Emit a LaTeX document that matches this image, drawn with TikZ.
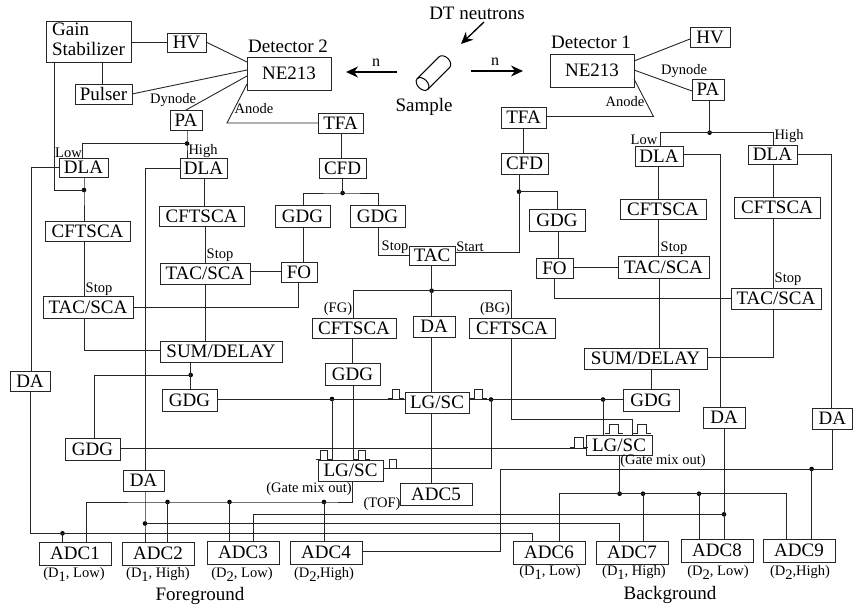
\documentclass[tikz,border=0pt]{standalone}
\usepackage{fontspec}
\setmainfont{Liberation Serif}
\usetikzlibrary{arrows.meta}
\newcommand{\bx}[6]{%
  \pgfmathsetmacro\bw{#4-#2}\pgfmathsetmacro\bh{#5-#3}%
  \pgfmathsetmacro\cx{(#2+#4)/2}\pgfmathsetmacro\cy{(#3+#5)/2}%
  \node[boxn,minimum width=\bw pt,minimum height=\bh pt] (#1) at (\cx,\cy) {#6};}
\newcommand{\pulsemark}[4]{\draw[wire,line width=.7pt] (#1-4.5,#4) -- (#1,#4) -- (#1,#3) -- (#2,#3) -- (#2,#4) -- (#2+4.5,#4);}
\newcommand{\lowd}[1]{\raisebox{-4pt}{#1}}
\tikzset{
  wire/.style={line width=.9pt,draw=black!85},
  boxn/.style={draw=black!85,line width=.9pt,inner sep=0pt,outer sep=0pt,font=\fontsize{19}{21}\selectfont},
  lab/.style={inner sep=0pt,font=\fontsize{14.5}{16}\selectfont},
  big/.style={inner sep=0pt,font=\fontsize{19}{21}\selectfont},
  dot/.style={circle,fill=black,inner sep=0pt,minimum size=4.6pt},
  flow/.style={line width=1.3pt,draw=black,-{Stealth[length=12pt,width=11pt]}}
}
\begin{document}
\begin{tikzpicture}[x=1pt,y=-1pt]
\useasboundingbox (0,0) rectangle (853,607);
% boxes, left side
\bx{gain}{46}{21}{131}{62}{\begin{tabular}{@{}l@{}}Gain\\[-1pt]Stabilizer\end{tabular}}
\bx{hvL}{167}{33}{206}{52}{HV}
\bx{neL}{247}{57}{331}{90}{NE213}
\bx{pulser}{75}{84}{132}{104}{Pulser}
\bx{paL}{170}{110}{202}{130}{PA}
\bx{tfaL}{318}{113}{363}{133}{TFA}
\bx{dlaLL}{59}{158}{108}{177}{DLA}
\bx{dlaLH}{180}{158}{227}{178}{DLA}
\bx{cfdL}{319}{158}{366}{178}{CFD}
\bx{cftLL}{45}{221}{130}{241}{CFTSCA}
\bx{cftLH}{159}{206}{244}{226}{CFTSCA}
\bx{gdgA}{275}{205}{330}{227}{GDG}
\bx{gdgB}{350}{205}{405}{227}{GDG}
\bx{tsLH}{160}{263}{250}{284}{TAC/SCA}
\bx{foL}{281}{262}{317}{282}{FO}
\bx{tac}{409}{246}{455}{265}{TAC}
\bx{tsLL}{43}{296}{133}{318}{TAC/SCA}
\bx{sumL}{160}{341}{282}{362}{SUM/DELAY}
\bx{daA}{10}{371}{50}{391}{DA}
\bx{gdgC}{162}{389}{217}{411}{GDG}
\bx{gdgD}{65}{438}{120}{460}{GDG}
\bx{daB}{123}{470}{164}{491}{DA}
% centre
\bx{cftFG}{312}{318}{396}{338}{CFTSCA}
\bx{gdgFG}{325}{363}{380}{385}{GDG}
\bx{daC}{413}{316}{455}{337}{DA}
\bx{cftBG}{469}{318}{555}{338}{CFTSCA}
\bx{lgC}{405}{392}{469}{413}{LG/SC}
\bx{lgL}{318}{460}{383}{481}{LG/SC}
\bx{adcE}{400}{483}{472}{505}{ADC5}
% right side
\bx{neR}{550}{54}{634}{87}{NE213}
\bx{hvR}{690}{27}{730}{47}{HV}
\bx{paR}{692}{79}{724}{100}{PA}
\bx{tfaR}{501}{107}{546}{128}{TFA}
\bx{cfdR}{501}{153}{548}{174}{CFD}
\bx{dlaRL}{635}{146}{683}{166}{DLA}
\bx{dlaRH}{748}{145}{797}{164}{DLA}
\bx{cftRL}{620}{199}{706}{219}{CFTSCA}
\bx{cftRH}{734}{197}{820}{218}{CFTSCA}
\bx{gdgS}{529}{209}{585}{231}{GDG}
\bx{foR}{536}{258}{573}{278}{FO}
\bx{tsRL}{618}{256}{709}{278}{TAC/SCA}
\bx{tsRH}{731}{288}{821}{309}{TAC/SCA}
\bx{sumR}{584}{348}{707}{369}{SUM/DELAY}
\bx{gdgR}{623}{389}{679}{411}{GDG}
\bx{lgR}{586}{435}{652}{455}{LG/SC}
\bx{daD}{703}{407}{745}{428}{DA}
\bx{daE}{812}{408}{852.5}{429}{DA}
% ADCs
\bx{adcA}{39}{542}{111}{565}{ADC1}
\bx{adcB}{122}{542}{194}{565}{ADC2}
\bx{adcC}{207}{541}{279}{564}{ADC3}
\bx{adcD}{290}{541}{362}{564}{ADC4}
\bx{adcF}{513}{541}{585}{564}{ADC6}
\bx{adcG}{596}{541}{668}{564}{ADC7}
\bx{adcH}{681}{539}{753}{562}{ADC8}
\bx{adcI}{763}{539}{835}{562}{ADC9}
% junctions
\node[dot] (jPaL) at (187,143.5) {};
\node[dot] (jLow) at (84,190) {};
\node[dot] (jCfdL) at (342.6,193) {};
\node[dot] (jSumL) at (190.7,375) {};
\node[dot] (jGateL) at (332,399) {};
\node[dot] (jTac) at (431.6,290.7) {};
\node[dot] (jLgC) at (491,399.5) {};
\node[dot] (jGateR) at (603,399.5) {};
\node[dot] (jCfdR) at (519,191.7) {};
\node[dot] (jPaR) at (709.6,132.7) {};
\node[dot] (jAdcA) at (62.5,533.3) {};
\node[dot] (jAdcB) at (145,523.5) {};
\node[dot] (jMixA) at (167.5,502) {};
\node[dot] (jMixB) at (229.5,502) {};
\node[dot] (jMixC) at (324,502) {};
\node[dot] (jDaD) at (724,514.3) {};
\node[dot] (jDaE) at (811.6,469) {};
\node[dot] (jMixR) at (619.6,493.7) {};
\node[dot] (jMixS) at (643,493.7) {};
\node[dot] (jMixT) at (699,493.7) {};
\coordinate (anL) at (227,123);
\coordinate (anR) at (653.5,116.5);
\begin{scope}[wire]
% left detector
\draw (gain.east |- 0,42) -- (hvL.west |- 0,42);
\draw (hvL.east |- 0,42) -- (neL.west |- 0,62);
\draw (pulser.east |- 0,94) -- (neL.west |- 0,70);
\draw (gain.south -| 102.5,0) -- (pulser.north -| 102.5,0);
\draw (paL.north -| 186,0) -- (neL.west |- 0,76);
\draw (neL.west |- 0,84) -- (anL) -- (tfaL.west |- 0,123);
\draw (gain.south -| 54,0) |- (jLow.center);
\draw (tfaL.south -| 341,0) -- (cfdL.north -| 341,0);
\draw (cfdL.south -| 342.6,0) -- (jCfdL.center);
\draw (gdgA.north -| 303,0) |- (jCfdL.center) -| (gdgB.north -| 378,0);
\draw (paL.south -| 187,0) -- (jPaL.center) -- (dlaLH.north -| 187,0);
\draw (jPaL.center) -| (dlaLL.north -| 82,0);
\draw (dlaLL.south -| 84,0) -- (jLow.center) -- (cftLL.north -| 84,0);
\draw (dlaLL.west |- 0,167) -| (daA.north -| 31,0);
\draw (daA.south -| 30,0) |- (jAdcA.center);
\draw (jAdcA.center) -- (532,533.3) -- (adcF.north -| 532,0);
\draw (jAdcA.center) -- (adcA.north -| 62.5,0);
\draw (dlaLH.west |- 0,168) -| (daB.north -| 145,0);
\draw (daB.south -| 145,0) -- (jAdcB.center) -- (adcB.north -| 145,0);
\draw (jAdcB.center) -| (adcG.north -| 619,0);
\draw (dlaLH.south -| 204.5,0) -- (cftLH.north -| 204.5,0);
\draw (cftLH.south -| 205,0) -- (tsLH.north -| 205,0);
\draw (tsLH.south -| 205.5,0) -- (sumL.north -| 205.5,0);
\draw (tsLH.east |- 0,271) -- (foL.west |- 0,271);
\draw (gdgA.south -| 303,0) -- (foL.north -| 303,0);
\draw (foL.south -| 298.8,0) |- (tsLL.east |- 0,307.5);
\draw (cftLL.south -| 84.5,0) -- (tsLL.north -| 84.5,0);
\draw (tsLL.south -| 84.5,0) |- (sumL.west |- 0,350.5);
\draw (sumL.south -| 190.7,0) -- (jSumL.center) -- (gdgC.north -| 190.7,0);
\draw (jSumL.center) -| (gdgD.north -| 94,0);
\draw (gdgC.east |- 0,399.5) -- (lgC.west |- 0,399.5);
\draw (jGateL.center) -- (lgL.north -| 332,0);
\draw (gdgFG.south -| 353,0) -- (lgL.north -| 353,0);
\draw (gdgD.east |- 0,448.5) -- (lgR.west |- 0,448.5);
\draw (gdgB.south -| 378,0) |- (tac.west |- 0,255.5);
% centre
\draw (tac.east |- 0,252) -| (jCfdR.center);
\draw (tac.south -| 431.6,0) -- (jTac.center) -- (daC.north -| 431.6,0);
\draw (cftFG.north -| 353,0) |- (jTac.center) -| (cftBG.north -| 511,0);
\draw (daC.south -| 431.6,0) -- (lgC.north -| 431.6,0);
\draw (lgC.south -| 431.6,0) -- (adcE.north -| 431.6,0);
\draw (cftFG.south -| 352.5,0) -- (gdgFG.north -| 352.5,0);
\draw (cftBG.south -| 511,0) |- (632,419) -- (lgR.north -| 632,0);
\draw (lgC.east |- 0,399.5) -- (gdgR.west |- 0,399.5);
\draw (jLgC.center) |- (lgL.east |- 0,468.7);
\draw (jGateR.center) -- (lgR.north -| 603,0);
% right detector
\draw (neR.east |- 0,61) -- (hvR.west |- 0,39);
\draw (neR.east |- 0,70) -- (paR.west |- 0,91);
\draw (neR.east |- 0,79) -- (anR) -- (tfaR.east |- 0,116.5);
\draw (tfaR.south -| 523.5,0) -- (cfdR.north -| 523.5,0);
\draw (cfdR.south -| 519,0) -- (jCfdR.center);
\draw (jCfdR.center) -| (gdgS.north -| 557,0);
\draw (gdgS.south -| 558.6,0) -- (foR.north -| 558.6,0);
\draw (foR.east |- 0,267.5) -- (tsRL.west |- 0,267.5);
\draw (foR.south -| 554,0) |- (tsRH.west |- 0,298);
\draw (paR.south -| 709.6,0) -- (jPaR.center);
\draw (dlaRL.north -| 660,0) |- (jPaR.center) -| (dlaRH.north -| 773,0);
\draw (dlaRL.south -| 658.6,0) -- (cftRL.north -| 658.6,0);
\draw (cftRL.south -| 658.6,0) -- (tsRL.north -| 658.6,0);
\draw (tsRL.south -| 659,0) -- (sumR.north -| 659,0);
\draw (dlaRH.south -| 773,0) -- (cftRH.north -| 773,0);
\draw (cftRH.south -| 773.5,0) -- (tsRH.north -| 773.5,0);
\draw (tsRH.south -| 773.5,0) |- (sumR.east |- 0,357.6);
\draw (sumR.south -| 651,0) -- (gdgR.north -| 651,0);
\draw (dlaRL.east |- 0,154.5) -| (daD.north -| 720,0);
\draw (dlaRH.east |- 0,154.5) -| (daE.north -| 831,0);
\draw (daD.south -| 724,0) -- (jDaD.center) -- (adcH.north -| 724,0);
\draw (jDaD.center) -| (adcC.north -| 253,0);
\draw (daE.south -| 832,0) |- (jDaE.center);
\draw (jDaE.center) -- (500.7,469) -- (500.7,551) -- (adcD.east |- 0,551);
\draw (jDaE.center) -- (adcI.north -| 811.6,0);
\draw (lgR.south -| 619.6,0) -- (jMixR.center);
\draw (adcF.north -| 559,0) |- (jMixR.center) -- (jMixS.center) -- (jMixT.center) -| (adcI.north -| 786,0);
\draw (jMixS.center) -- (adcG.north -| 643,0);
\draw (jMixT.center) -- (adcH.north -| 699,0);
% gate mix, foreground
\draw (lgL.south -| 352.6,0) |- (jMixC.center) -- (jMixB.center) -- (jMixA.center) -| (adcA.north -| 86,0);
\draw (jMixA.center) -- (adcB.north -| 167.5,0);
\draw (jMixB.center) -- (adcC.north -| 229.5,0);
\draw (jMixC.center) -- (adcD.north -| 324,0);
\end{scope}
% pulses
\pulsemark{392}{399}{389}{398.7}
\pulsemark{474.3}{482}{389}{398.7}
\pulsemark{320.7}{327}{450.7}{459.5}
\pulsemark{358}{365.7}{450.7}{459.5}
\pulsemark{389}{396}{459}{468.2}
\pulsemark{609}{618}{424}{433.5}
\pulsemark{637.7}{646.7}{424}{433.5}
\pulsemark{574}{583}{437}{447.8}
% beam arrows
\coordinate (nLs) at (397,72);
\coordinate (nLe) at (346,72);
\coordinate (nRs) at (471,71);
\coordinate (nRe) at (523,71);
\coordinate (dtS) at (484,22);
\coordinate (dtE) at (461,44);
\draw[flow] (nLs) -- (nLe);
\draw[flow] (nRs) -- (nRe);
\draw[flow] (dtS) -- (dtE);
% sample
\begin{scope}[shift={(422.5,84)},x=1pt,y=1pt,rotate=45]
\draw[line width=1pt] (0,0) circle[x radius=5,y radius=7.5];
\draw[line width=1pt] (0,7.5) -- (31,7.5) arc[start angle=90,end angle=-90,x radius=5,y radius=7.5] -- (0,-7.5);
\end{scope}
% labels
\node[big] (tDT) at (477,13) {DT neutrons};
\node[big] (tSample) at (424,107) {Sample};
\node[big] (tD2) at (288,46) {Detector 2};
\node[big] (tD1) at (591,42) {Detector 1};
\node[big] (tFore) at (200,596) {Foreground};
\node[big] (tBack) at (670,595) {Background};
\node[big,font=\fontsize{16}{18}\selectfont] (tnL) at (376,63) {n};
\node[big,font=\fontsize{16}{18}\selectfont] (tnR) at (495,62) {n};
\node[lab] (l1) at (173,100) {Dynode};
\node[lab] (l2) at (254,109) {Anode};
\node[lab] (l3) at (68.5,153) {Low};
\node[lab] (l4) at (203,151) {High};
\node[lab] (l5) at (220,255) {Stop};
\node[lab] (l6) at (99,289) {Stop};
\node[lab] (l7) at (395,247) {Stop};
\node[lab] (l8) at (470,247) {Start};
\node[lab] (l9) at (338,309) {(FG)};
\node[lab] (l10) at (495,309) {(BG)};
\node[lab] (l11) at (309,489) {(Gate mix out)};
\node[lab] (l12) at (663,461) {(Gate mix out)};
\node[lab] (l13) at (382,504) {(TOF)};
\node[lab] (l14) at (684,71) {Dynode};
\node[lab] (l15) at (625,102) {Anode};
\node[lab] (l16) at (644,140) {Low};
\node[lab] (l17) at (789,136) {High};
\node[lab] (l18) at (674,248) {Stop};
\node[lab] (l19) at (788,279) {Stop};
\node[lab] (s1) at (74,574) {(D\lowd{1}, Low)};
\node[lab] (s2) at (158,574) {(D\lowd{1}, High)};
\node[lab] (s3) at (242,574) {(D\lowd{2}, Low)};
\node[lab] (s4) at (324,574) {(D\lowd{2},High)};
\node[lab] (s6) at (550,572) {(D\lowd{1}, Low)};
\node[lab] (s7) at (634,572) {(D\lowd{1}, High)};
\node[lab] (s8) at (718,572) {(D\lowd{2}, Low)};
\node[lab] (s9) at (800,572) {(D\lowd{2},High)};
\end{tikzpicture}
\end{document}
